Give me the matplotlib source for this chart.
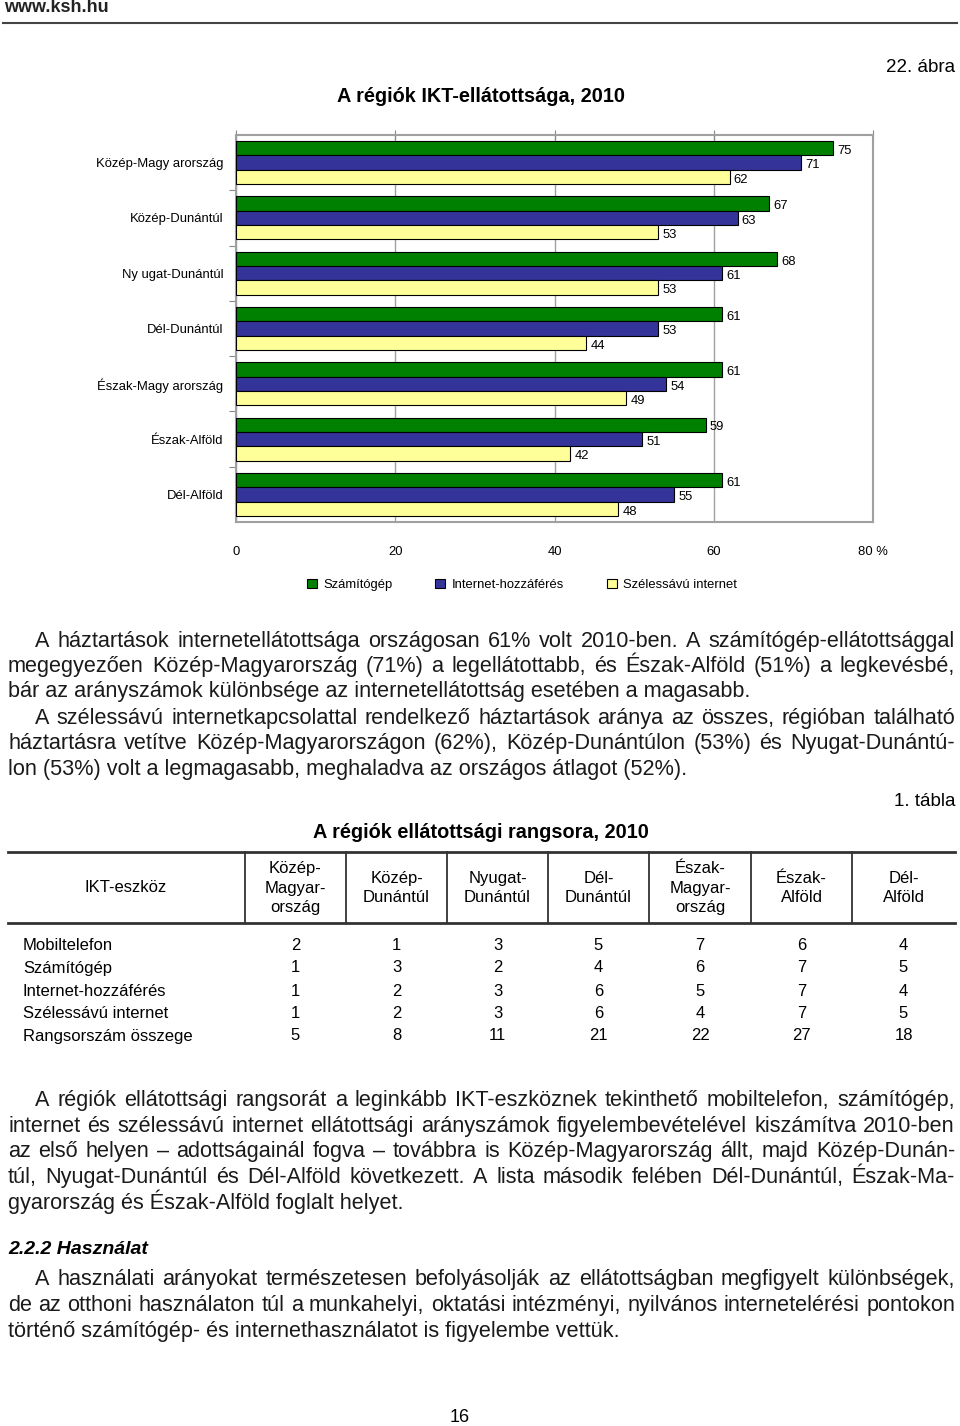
import matplotlib
matplotlib.use("Agg")
import matplotlib.pyplot as plt
from matplotlib.patches import Patch

# Chart data
regions = ["Közép-Magy arország", "Közép-Dunántúl", "Ny ugat-Dunántúl", "Dél-Dunántúl",
           "Észak-Magy arország", "Észak-Alföld", "Dél-Alföld"]
szamitogep = [75, 67, 68, 61, 61, 59, 61]
internet = [71, 63, 61, 53, 54, 51, 55]
szeles = [62, 53, 53, 44, 49, 42, 48]
series_names = ["Számítógép", "Internet-hozzáférés", "Szélessávú internet"]
series_colors = ["#008000", "#333399", "#FFFF99"]
x_ticks = [0, 20, 40, 60, 80]
x_ticklabels = ["0", "20", "40", "60", "80 %"]

# Table data
tab_cols = ["Közép-\nMagyar-\nország", "Közép-\nDunántúl", "Nyugat-\nDunántúl", "Dél-\nDunántúl",
            "Észak-\nMagyar-\nország", "Észak-\nAlföld", "Dél-\nAlföld"]
tab_rows = ["Mobiltelefon", "Számítógép", "Internet-hozzáférés", "Szélessávú internet",
            "Rangsorszám összege"]
mobiltelefon = [2, 1, 3, 5, 7, 6, 4]
szamitogep_rang = [1, 3, 2, 4, 6, 7, 5]
internet_rang = [1, 2, 3, 6, 5, 7, 4]
szeles_rang = [1, 2, 3, 6, 4, 7, 5]
rang_osszeg = [5, 8, 11, 21, 22, 27, 18]

# Body text lines (True = justified)
para1 = [
    ("A háztartások internetellátottsága országosan 61% volt 2010-ben. A számítógép-ellátottsággal", True, 35),
    ("megegyezően Közép-Magyarország (71%) a legellátottabb, és Észak-Alföld (51%) a legkevésbé,", True, 8),
    ("bár az arányszámok különbsége az internetellátottság esetében a magasabb.", False, 8),
    ("A szélessávú internetkapcsolattal rendelkező háztartások aránya az összes, régióban található", True, 35),
    ("háztartásra vetítve Közép-Magyarországon (62%), Közép-Dunántúlon (53%) és Nyugat-Dunántú-", True, 8),
    ("lon (53%) volt a legmagasabb, meghaladva az országos átlagot (52%).", False, 8),
]
para1_y = [640, 665, 690, 717, 742, 768]
para2 = [
    ("A régiók ellátottsági rangsorát a leginkább IKT-eszköznek tekinthető mobiltelefon, számítógép,", True, 35),
    ("internet és szélessávú internet ellátottsági arányszámok figyelembevételével kiszámítva 2010-ben", True, 8),
    ("az első helyen – adottságainál fogva – továbbra is  Közép-Magyarország állt, majd Közép-Dunán-", True, 8),
    ("túl, Nyugat-Dunántúl és Dél-Alföld következett. A lista második felében Dél-Dunántúl, Észak-Ma-", True, 8),
    ("gyarország és Észak-Alföld foglalt helyet.", False, 8),
]
para2_y = [1099, 1125, 1150, 1176, 1202]
para3 = [
    ("A használati arányokat természetesen befolyásolják az ellátottságban megfigyelt különbségek,", True, 35),
    ("de az otthoni használaton túl a munkahelyi, oktatási intézményi, nyilvános internetelérési pontokon", True, 8),
    ("történő számítógép- és internethasználatot is figyelembe vettük.", False, 8),
]
para3_y = [1278, 1304, 1330]

W, H = 960, 1426
SANS = ["Liberation Sans", "DejaVu Sans"]
BODY = 15.6
SMALL = 9.4

fig = plt.figure(figsize=(W / 100, H / 100), dpi=100)
page = fig.add_axes([0, 0, 1, 1])
page.set_xlim(0, W)
page.set_ylim(H, 0)
page.axis("off")
renderer = fig.canvas.get_renderer()


def draw_line(text, x0, y, justify, x1=955, size=BODY):
    yb = y + 7  # baseline, so words of a line sit on one line
    if not justify:
        page.text(x0, yb, text, fontsize=size, family=SANS, va="baseline", ha="left", color="#1a1a1a")
        return
    words = text.split()
    arts = [page.text(0, yb, w, fontsize=size, family=SANS, va="baseline", ha="left", color="#1a1a1a")
            for w in words]
    widths = [a.get_window_extent(renderer).width for a in arts]
    gap = (x1 - x0 - sum(widths)) / (len(words) - 1)
    x = x0
    for a, w in zip(arts, widths):
        a.set_x(x)
        x += w + gap


# header
page.text(4, 8, "www.ksh.hu", fontsize=13, family=SANS, weight="bold", va="center", color="#222222")
page.plot([3, 957], [23, 23], color="#444444", lw=1.5)
page.text(955, 68, "22. ábra", fontsize=13.5, family=SANS, ha="right", va="center")
page.text(481, 97, "A régiók IKT-ellátottsága, 2010", fontsize=14.3, family=SANS, weight="bold",
          ha="center", va="center")

# bar chart
ax = fig.add_axes([236 / W, 1 - 522 / H, (873 - 236) / W, (522 - 135) / H])
pos = list(range(len(regions)))
h = 0.26
for k, (vals, name, col) in enumerate(zip([szamitogep, internet, szeles], series_names, series_colors)):
    yy = [p + (k - 1) * h for p in pos]
    ax.barh(yy, vals, height=h, color=col, edgecolor="black", linewidth=0.8, zorder=3)
    for yv, v in zip(yy, vals):
        ax.annotate(str(v), (v, yv), xytext=(3, -2), textcoords="offset points",
                    fontsize=SMALL, family=SANS, va="center", ha="left")
ax.set_xlim(0, 80)
ax.set_ylim(len(regions) - 0.5, -0.5)
ax.set_xticks(x_ticks)
ax.set_xticklabels(x_ticklabels, family=SANS, fontsize=SMALL)
ax.tick_params(axis="x", bottom=False, top=True, labelbottom=True, labeltop=False,
               direction="inout", length=7, color="#888888", pad=14)
ax.set_yticks([p + 0.5 for p in pos[:-1]])
ax.set_yticklabels([])
ax.tick_params(axis="y", which="major", length=5, color="#888888")
ax.set_yticks(pos, minor=True)
ax.set_yticklabels(regions, minor=True, family=SANS, fontsize=SMALL)
ax.tick_params(axis="y", which="minor", length=0, pad=9)
ax.grid(axis="x", color="#a0a0a0", lw=1, zorder=0)
for s in ax.spines.values():
    s.set_color("#a0a0a0")
    s.set_linewidth(1.5)

handles = [Patch(facecolor=c, edgecolor="black", lw=0.8, label=n) for c, n in zip(series_colors, series_names)]
fig.legend(handles=handles, loc="center", bbox_to_anchor=(522 / W, 1 - 585 / H), ncol=3, frameon=False,
           prop={"family": SANS, "size": SMALL}, handlelength=0.75, handleheight=0.75,
           handletextpad=0.5, columnspacing=3.3)

# paragraph 1
for (txt, just, x0), y in zip(para1, para1_y):
    draw_line(txt, x0, y, just)

# table
page.text(955, 802, "1. tábla", fontsize=13.5, family=SANS, ha="right", va="center")
page.text(481, 832, "A régiók ellátottsági rangsora, 2010", fontsize=14.3, family=SANS, weight="bold",
          ha="center", va="center")
page.plot([8, 955], [852, 852], color="#333333", lw=2)
page.plot([8, 955], [923, 923], color="#333333", lw=2)
col_edges = [245, 346, 447, 548, 649, 751, 852, 955]
for xe in col_edges[:-1]:
    page.plot([xe, xe], [852, 923], color="#333333", lw=1.3)
page.text(126, 888, "IKT-eszköz", fontsize=12, family=SANS, ha="center", va="center")
for i, lab in enumerate(tab_cols):
    xc = (col_edges[i] + col_edges[i + 1]) / 2
    page.text(xc, 888, lab, fontsize=12, family=SANS, ha="center", va="center", linespacing=1.4)
row_y = [945, 967, 990, 1012, 1035]
for lab, vals, y in zip(tab_rows, [mobiltelefon, szamitogep_rang, internet_rang, szeles_rang, rang_osszeg], row_y):
    page.text(23, y + 5.5, lab, fontsize=12, family=SANS, ha="left", va="baseline")
    for i, v in enumerate(vals):
        xc = (col_edges[i] + col_edges[i + 1]) / 2
        page.text(xc, y + 5.5, str(v), fontsize=12, family=SANS, ha="center", va="baseline")

# paragraph 2
for (txt, just, x0), y in zip(para2, para2_y):
    draw_line(txt, x0, y, just)

page.text(8, 1249, "2.2.2 Használat", fontsize=14, family=SANS, weight="bold", style="italic", va="center")
for (txt, just, x0), y in zip(para3, para3_y):
    draw_line(txt, x0, y, just)

page.text(460, 1418, "16", fontsize=13, family=SANS, ha="center", va="center")

fig.savefig("out.png", dpi=100)
